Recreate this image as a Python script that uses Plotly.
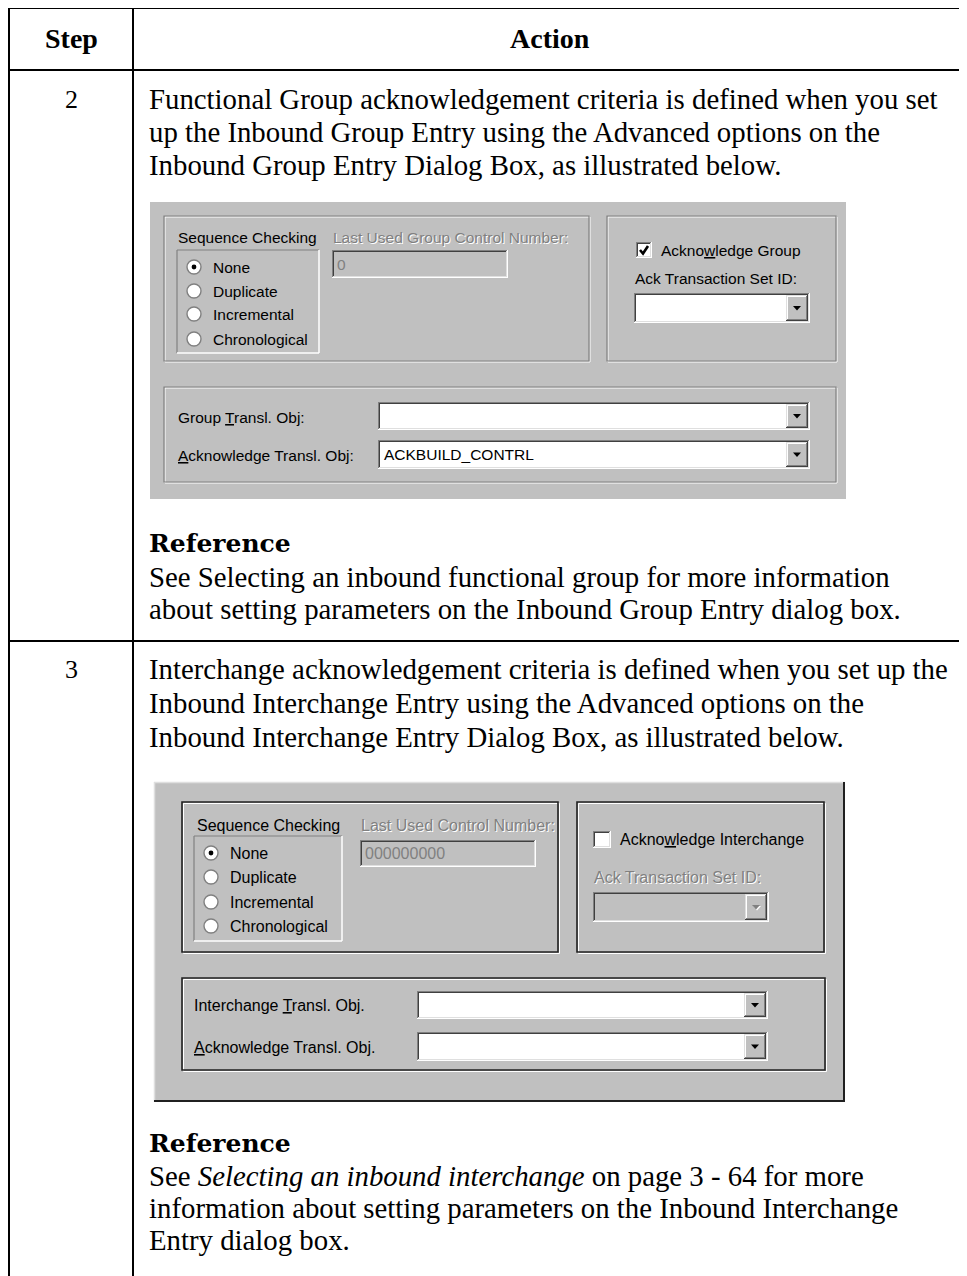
import plotly.graph_objects as go

W, H = 967, 1276
OFF = 8  # page body margin of the generated html; data coords == page pixels
SERIF = "Liberation Serif"
SANS = "Liberation Sans"
GRAY = "#c0c0c0"

# ---------------- text content ----------------
header_labels = ["Step", "Action"]
step_numbers = ["2", "3"]
step2_lines = [
    "Functional Group acknowledgement criteria is defined when you set",
    "up the Inbound Group Entry using the Advanced options on the",
    "Inbound Group Entry Dialog Box, as illustrated below.",
]
step2_ref_lines = [
    "See Selecting an inbound functional group for more information",
    "about setting parameters on the Inbound Group Entry dialog box.",
]
step3_lines = [
    "Interchange acknowledgement criteria is defined when you set up the",
    "Inbound Interchange Entry using the Advanced options on the",
    "Inbound Interchange Entry Dialog Box, as illustrated below.",
]
step3_ref_lines = [
    "See <i>Selecting an inbound interchange</i> on page 3 - 64 for more",
    "information about setting parameters on the Inbound Interchange",
    "Entry dialog box.",
]
reference_heading = "Reference"
radio_options = ["None", "Duplicate", "Incremental", "Chronological"]
dlg1_texts = ["Sequence Checking", "Last Used Group Control Number:", "0",
              "Ackno<u>w</u>ledge Group", "Ack Transaction Set ID:",
              "Group <u>T</u>ransl. Obj:", "<u>A</u>cknowledge Transl. Obj:", "ACKBUILD_CONTRL"]
dlg2_texts = ["Sequence Checking", "Last Used Control Number:", "000000000",
              "Ackno<u>w</u>ledge Interchange", "Ack Transaction Set ID:",
              "Interchange <u>T</u>ransl. Obj.", "<u>A</u>cknowledge Transl. Obj.", ""]

shapes, anns = [], []


def rect(x0, y0, x1, y1, fill=None, line=None, w=1.0):
    shapes.append(dict(type="rect", xref="x", yref="y", x0=x0, y0=y0, x1=x1, y1=y1,
                       fillcolor=fill or "rgba(0,0,0,0)",
                       line=dict(color=line or "rgba(0,0,0,0)", width=w if line else 0)))


def seg(x0, y0, x1, y1, color, w=1.0):
    shapes.append(dict(type="line", xref="x", yref="y", x0=x0, y0=y0, x1=x1, y1=y1,
                       line=dict(color=color, width=w)))


def circle(cx, cy, r, fill, line=None, w=1.0):
    shapes.append(dict(type="circle", xref="x", yref="y", x0=cx - r, y0=cy - r, x1=cx + r, y1=cy + r,
                       fillcolor=fill, line=dict(color=line or fill, width=w if line else 0)))


def path(d, fill=None, line=None, w=1.0):
    shapes.append(dict(type="path", xref="x", yref="y", path=d,
                       fillcolor=fill or "rgba(0,0,0,0)",
                       line=dict(color=line or "rgba(0,0,0,0)", width=w if line else 0)))


def txt(x, y, s, size, color="black", family=SERIF, anchor="left"):
    anns.append(dict(x=x, y=y, xref="x", yref="y", text=s, showarrow=False,
                     xanchor=anchor, yanchor="middle", borderpad=0,
                     font=dict(size=size, color=color, family=family)))


def dis_txt(x, y, s, size):
    txt(x + 1, y + 1, s, size, "#ffffff", SANS)
    txt(x, y, s, size, "#808080", SANS)


def sunken(x0, y0, x1, y1, fill="white"):
    rect(x0, y0, x1, y1, fill=fill)
    seg(x0, y0 + 0.5, x1, y0 + 0.5, "#808080")
    seg(x0 + 0.5, y0, x0 + 0.5, y1, "#808080")
    seg(x0 + 1, y0 + 1.5, x1 - 1, y0 + 1.5, "#404040")
    seg(x0 + 1.5, y0 + 1, x0 + 1.5, y1 - 1, "#404040")
    seg(x0, y1 - 0.5, x1, y1 - 0.5, "#ffffff")
    seg(x1 - 0.5, y0, x1 - 0.5, y1, "#ffffff")
    seg(x0 + 1, y1 - 1.5, x1 - 1, y1 - 1.5, "#dfdfdf")
    seg(x1 - 1.5, y0 + 1, x1 - 1.5, y1 - 1, "#dfdfdf")


def raised(x0, y0, x1, y1):
    rect(x0, y0, x1, y1, fill=GRAY)
    seg(x0, y0 + 0.5, x1, y0 + 0.5, "#dfdfdf")
    seg(x0 + 0.5, y0, x0 + 0.5, y1, "#dfdfdf")
    seg(x0 + 1, y0 + 1.5, x1 - 1, y0 + 1.5, "#ffffff")
    seg(x0 + 1.5, y0 + 1, x0 + 1.5, y1 - 1, "#ffffff")
    seg(x0, y1 - 0.5, x1, y1 - 0.5, "#404040")
    seg(x1 - 0.5, y0, x1 - 0.5, y1, "#404040")
    seg(x0 + 1, y1 - 1.5, x1 - 1, y1 - 1.5, "#808080")
    seg(x1 - 1.5, y0 + 1, x1 - 1.5, y1 - 1, "#808080")


def combo(x0, y0, x1, y1, enabled=True):
    sunken(x0, y0, x1, y1, fill="white" if enabled else GRAY)
    bx0, bx1 = x1 - 24, x1 - 2
    raised(bx0, y0 + 2, bx1, y1 - 2)
    cx, cy = (bx0 + bx1) / 2, (y0 + y1) / 2
    if enabled:
        path(f"M {cx-4},{cy-2} L {cx+4},{cy-2} L {cx},{cy+2.5} Z", fill="black")
    else:
        path(f"M {cx-3},{cy-1} L {cx+5},{cy-1} L {cx+1},{cy+3.5} Z", fill="white")
        path(f"M {cx-4},{cy-2} L {cx+4},{cy-2} L {cx},{cy+2.5} Z", fill="#808080")


def etched(x0, y0, x1, y1):
    rect(x0 + 1, y0 + 1, x1 + 1, y1 + 1, line="#ffffff", w=1)
    rect(x0, y0, x1, y1, line="#808080", w=1.2)


def dark_group(x0, y0, x1, y1):
    rect(x0 + 1.5, y0 + 1.5, x1 + 1.5, y1 + 1.5, line="#ffffff", w=1)
    rect(x0, y0, x1, y1, line="#202020", w=1.6)


def radio(cx, cy, checked):
    circle(cx, cy, 7, "#ffffff", "#808080", 1.4)
    path(f"M {cx-5},{cy+4} A 6.5 6.5 0 0 1 {cx+4},{cy-5}", line="#404040", w=1)
    if checked:
        circle(cx, cy, 2.4, "black")


def checkbox(x0, y0, x1, y1, checked):
    sunken(x0, y0, x1, y1)
    if checked:
        path(f"M {x0+4},{y0+8} L {x0+7},{y0+11.5} L {x1-4},{y0+4}", line="black", w=2.6)


def dialog(cfg, texts, checked, enabled_ack):
    (gx0, gy0, gx1, gy1, frame, lp, rp, bp, seq_xy, last_xy, rb, rx, rys, rtx,
     nb, cb, ack_xy, set_xy, dd, lab_x, lab_ys, cmb_x, cmb_ys, fs, group) = cfg
    rect(gx0, gy0, gx1, gy1, fill=GRAY)
    if frame:
        seg(gx0, gy0 + 0.5, gx1, gy0 + 0.5, "#dfdfdf", 1.5)
        seg(gx0 + 0.5, gy0, gx0 + 0.5, gy1, "#dfdfdf", 1.5)
        seg(gx0, gy1 - 1, gx1, gy1 - 1, "#202020", 2)
        seg(gx1 - 1, gy0, gx1 - 1, gy1, "#202020", 2)
    group(*lp)
    group(*rp)
    group(*bp)
    txt(seq_xy[0], seq_xy[1], texts[0], fs, "black", SANS)
    dis_txt(last_xy[0], last_xy[1], texts[1], fs)
    x0, y0, x1, y1 = rb
    seg(x0, y0, x1, y0, "#808080", 1.2)
    seg(x0, y0, x0, y1, "#808080", 1.2)
    seg(x0, y1, x1, y1, "#ffffff", 1.5)
    seg(x1, y0, x1, y1, "#ffffff", 1.5)
    for i, opt in enumerate(radio_options):
        radio(rx, rys[i], i == 0)
        txt(rtx, rys[i], opt, fs, "black", SANS)
    sunken(*nb, fill=GRAY)
    txt(nb[0] + 4, (nb[1] + nb[3]) / 2, texts[2], fs, "#808080", SANS)
    checkbox(*cb, checked)
    txt(ack_xy[0], ack_xy[1], texts[3], fs, "black", SANS)
    if enabled_ack:
        txt(set_xy[0], set_xy[1], texts[4], fs, "black", SANS)
    else:
        dis_txt(set_xy[0], set_xy[1], texts[4], fs)
    combo(*dd, enabled=enabled_ack)
    for i in range(2):
        txt(lab_x, lab_ys[i], texts[5 + i], fs, "black", SANS)
        combo(cmb_x[0], cmb_ys[i][0], cmb_x[1], cmb_ys[i][1])
    if texts[7]:
        txt(cmb_x[0] + 5, (cmb_ys[1][0] + cmb_ys[1][1]) / 2, texts[7], fs, "black", SANS)


# ---------------- table grid (page pixel coordinates) ----------------
RIGHT = W + OFF
BOTTOM = H + OFF
TOP, LEFT, COL, HDR, DIV = 8, 9, 133, 70, 641
seg(LEFT, TOP, RIGHT, TOP, "black", 2)
seg(LEFT, HDR, RIGHT, HDR, "black", 2)
seg(LEFT, DIV, RIGHT, DIV, "black", 2)
seg(LEFT, TOP, LEFT, BOTTOM, "black", 2)
seg(COL, TOP, COL, BOTTOM, "black", 2)

BODY = 28.8
LH = 33
TX = 148
txt((LEFT + COL) / 2, 38, "<b>" + header_labels[0] + "</b>", 28, anchor="center")
txt((COL + W) / 2, 38, "<b>" + header_labels[1] + "</b>", 28, anchor="center")

# step 2
txt((LEFT + COL) / 2, 99, step_numbers[0], 26, anchor="center")
for i, s in enumerate(step2_lines):
    txt(TX, 99 + i * LH, s, BODY)

dlg1 = (150, 202, 846, 499, False,
        (164, 216, 589, 361), (607, 216, 836, 361), (164, 387, 836, 482),
        (177, 237), (332, 237), (177, 250, 319, 353), 194, [267, 291, 314, 339], 212,
        (332, 250, 508, 278), (636, 242, 652, 258), (660, 250), (634, 278), (634, 293, 810, 323),
        177, [417, 455], (378, 810), [(402, 430), (440, 469)], 15.5, etched)
dialog(dlg1, dlg1_texts, True, True)

txt(TX, 543, "<b>" + reference_heading + "</b>", 25, family="DejaVu Serif")
for i, s in enumerate(step2_ref_lines):
    txt(TX, 577 + i * 32, s, BODY)

# step 3
txt((LEFT + COL) / 2, 669, step_numbers[1], 26, anchor="center")
for i, s in enumerate(step3_lines):
    txt(TX, 669 + i * 34, s, BODY)

dlg2 = (154, 782, 845, 1102, True,
        (182, 802, 558, 952), (577, 802, 824, 952), (182, 978, 825, 1070),
        (196, 825), (360, 825), (194, 836, 342, 941), 211, [853, 877, 902, 926], 229,
        (360, 840, 536, 867), (593, 831, 611, 848), (619, 839), (593, 877), (593, 892, 769, 922),
        193, [1005, 1047], (417, 768), [(991, 1019), (1032, 1061)], 16, dark_group)
dialog(dlg2, dlg2_texts, False, False)

txt(TX, 1143, "<b>" + reference_heading + "</b>", 25, family="DejaVu Serif")
for i, s in enumerate(step3_ref_lines):
    txt(TX, 1176 + i * 32, s, BODY)

fig = go.Figure()
fig.update_layout(
    width=W, height=H, margin=dict(l=0, r=0, t=0, b=0),
    paper_bgcolor="white", plot_bgcolor="white",
    xaxis=dict(range=[OFF, W + OFF], visible=False, fixedrange=True),
    yaxis=dict(range=[H + OFF, OFF], visible=False, fixedrange=True),
    shapes=shapes, annotations=anns, showlegend=False,
)
fig.write_html("out.html", config={"displayModeBar": False})
